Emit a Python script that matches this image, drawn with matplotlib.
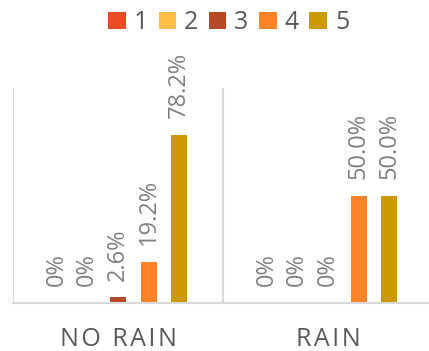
import numpy as np
import matplotlib.pyplot as plt

plt.rcParams['font.family'] = ['Open Sans', 'DejaVu Sans']

categories = ['NO RAIN', 'RAIN']
series = ['1', '2', '3', '4', '5']
values = [
    [0.0, 0.0],
    [0.0, 0.0],
    [2.6, 0.0],
    [19.2, 50.0],
    [78.2, 50.0],
]
labels = [
    ['0%', '0%'],
    ['0%', '0%'],
    ['2.6%', '0%'],
    ['19.2%', '50.0%'],
    ['78.2%', '50.0%'],
]
colors = ['#E84C22', '#FFBD47', '#B64926', '#FF8427', '#CC9900']

W, H = 429, 351
fig = plt.figure(figsize=(W / 100, H / 100), dpi=100)
ax = fig.add_axes([13 / W, 48 / H, 420 / W, 215 / H])

x = np.arange(len(categories))
step = 0.146
width = 0.077
for i, (name, vals, col) in enumerate(zip(series, values, colors)):
    pos = x + (i - 2) * step
    bars = ax.bar(pos, vals, width, color=col, label=name)
    for b, v, lab in zip(bars, vals, labels[i]):
        ax.annotate(lab, (b.get_x() + b.get_width() / 2, v), xytext=(0, 12),
                    textcoords='offset points', rotation=90, ha='center', va='bottom',
                    fontsize=17, color='#808080')

# spaced out category names, like the original
spaced = ['\u200a'.join(c) for c in categories]

ax.set_xlim(-0.5, 1.5)
ax.set_ylim(0, 100)
ax.set_yticks([])
ax.set_xticks(x)
ax.set_xticklabels(spaced, fontsize=18, color='#595959')
ax.tick_params(axis='x', length=0, pad=17)
ax.set_xticks([-0.5, 0.5, 1.5], minor=True)
ax.tick_params(axis='x', which='minor', length=0)
ax.grid(axis='x', which='minor', color='#d9d9d9', linewidth=1.5)
for s in ['top', 'right', 'left']:
    ax.spines[s].set_visible(False)
ax.spines['bottom'].set_color('#d9d9d9')
ax.spines['bottom'].set_linewidth(1.5)

fig.legend(loc='upper center', bbox_to_anchor=(0.533, 1.035), ncol=5, frameon=False,
           fontsize=18, labelcolor='#595959', handlelength=0.7, handleheight=0.7,
           handletextpad=0.32, columnspacing=0.42)

fig.savefig('out.png', dpi=100)
